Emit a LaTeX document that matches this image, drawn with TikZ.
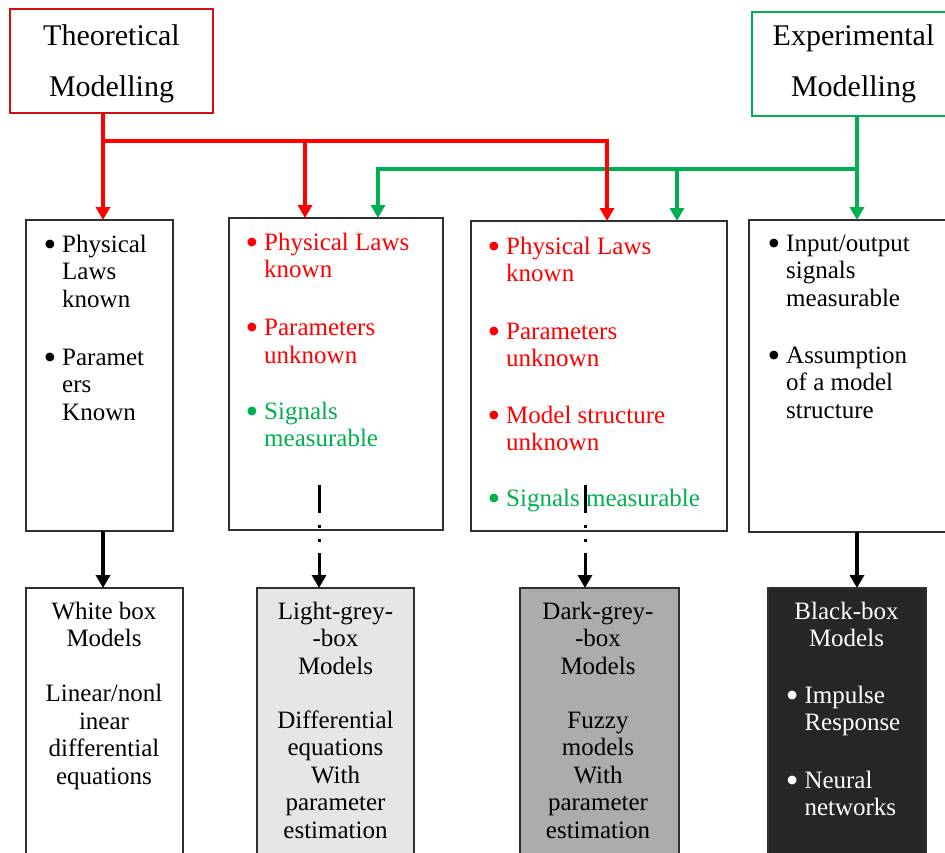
\documentclass[tikz,border=0pt]{standalone}
\usepackage{fontspec}
\setmainfont{Liberation Serif}[Ligatures=TeX]
\newfontfamily\tnr{Liberation Serif}
\usetikzlibrary{arrows.meta}

\definecolor{tred}{HTML}{FF0000}
\definecolor{tredline}{HTML}{D01010}
\definecolor{egreen}{HTML}{00B050}
\definecolor{lgrey}{HTML}{E7E6E6}
\definecolor{dgrey}{HTML}{AEABAB}
\definecolor{bbox}{HTML}{262626}
\definecolor{edge}{HTML}{303030}

\newcommand\bul{\llap{\raisebox{-4pt}{\scalebox{1.45}{\textbullet}}\hspace{6pt}}}

\begin{document}
\begin{tikzpicture}[x=1pt,y=-1pt,
  panel/.style={draw=edge, line width=1.3pt, inner sep=0pt, outer sep=0pt,
    anchor=north west, fill=white},
  title/.style={font=\tnr\fontsize{30}{51}\selectfont, inner sep=0pt,
    anchor=base, align=center},
  item/.style={font=\tnr\fontsize{25}{27.5}\selectfont, inner sep=0pt,
    anchor=base west, align=left},
  ctext/.style={font=\tnr\fontsize{25}{27.5}\selectfont, inner sep=0pt,
    anchor=base, align=center},
  tarrow/.style={draw=tred, line width=4pt,
    -{Triangle[width=14pt,length=13pt]}, tred},
  earrow/.style={draw=egreen, line width=3.6pt,
    -{Triangle[width=14pt,length=13pt]}, egreen},
  karrow/.style={draw=black, line width=3.6pt,
    -{Triangle[width=14pt,length=13pt]}},
  darrow/.style={draw=black, line width=3pt,
    dash pattern=on 28pt off 12pt on 3pt off 11pt on 3pt off 11pt on 80pt off 0pt,
    -{Triangle[width=14pt,length=13pt]}},
]
\useasboundingbox (0,0) rectangle (945,852);
\clip (0,0) rectangle (945,852);
\fill[white] (0,0) rectangle (945,852);

% modelling sources
\node[panel, draw=tredline, line width=1.2pt, minimum width=203pt, minimum height=104pt] (theo) at (10,9) {};
\node[panel, draw=egreen, line width=1.2pt, minimum width=205pt, minimum height=104pt] (expe) at (752,12) {};
% multi-line nodes sit on the baseline of their last line
\node[title] (theotxt) at (111.5,96) {Theoretical\\Modelling};
\node[title] (expetxt) at (853.5,96.5) {Experimental\\Modelling};

% knowledge panels
\node[panel, minimum width=147pt, minimum height=311pt] (m1) at (26,220) {};
\node[panel, minimum width=214pt, minimum height=312pt] (m2) at (229,218) {};
\node[panel, minimum width=256pt, minimum height=310pt] (m3) at (471,221) {};
\node[panel, minimum width=210pt, minimum height=312pt] (m4) at (749,220) {};

% model classes
\node[panel, minimum width=157pt, minimum height=290pt] (b1) at (26,588) {};
\node[panel, fill=lgrey, minimum width=157pt, minimum height=290pt] (b2) at (257,588) {};
\node[panel, fill=dgrey, minimum width=159pt, minimum height=290pt] (b3) at (520,588) {};
\node[panel, fill=bbox, minimum width=158pt, minimum height=290pt] (b4) at (768,588) {};

% junction points of the feed lines
\coordinate (rj) at (103,141);
\coordinate (r2) at (305,141);
\coordinate (r3) at (607,141);
\coordinate (gj) at (857,169);
\coordinate (g1) at (378,169);
\coordinate (g2) at (677,169);
\coordinate (d2) at (319,485);
\coordinate (d3) at (585,485);

% experimental feed
\draw[earrow] (expe.south -| gj) -- (m4.north -| gj);
\draw[earrow] (gj) -- (g1) -- (g1 |- m2.north);
\draw[earrow] (g2) -- (g2 |- m3.north);

% theoretical feed
\draw[tarrow] (theo.south -| rj) -- (m1.north -| rj);
\draw[tarrow] (rj) -- (r3) -- (r3 |- m3.north);
\draw[tarrow] (r2) -- (r2 |- m2.north);

% panel contents
\node[item] (m1a) at (62,307) {\bul Physical\\Laws\\known};
\node[item] (m1b) at (62,420) {\bul Paramet\\ers\\Known};

\node[item, text=tred] (m2a) at (264,277.5) {\bul Physical Laws\\known};
\node[item, text=tred] (m2b) at (264,363.2) {\bul Parameters\\unknown};
\node[item, text=egreen] (m2c) at (264,446.5) {\bul Signals\\measurable};

\node[item, text=tred] (m3a) at (506,281.8) {\bul Physical Laws\\known};
\node[item, text=tred] (m3b) at (506,366.5) {\bul Parameters\\unknown};
\node[item, text=tred] (m3c) at (506,450.8) {\bul Model structure\\unknown};
\node[item, text=egreen] (m3d) at (506,506.7) {\bul Signals measurable};

\node[item] (m4a) at (786,306) {\bul Input/output\\signals\\measurable};
\node[item] (m4b) at (786,418.3) {\bul Assumption\\of a model\\structure};

% downward links to the model classes
\draw[karrow] (m1.south -| rj) -- (b1.north -| rj);
\draw[darrow] (d2) -- (d2 |- b2.north);
\draw[darrow] (d3) -- (d3 |- b3.north);
\draw[karrow] (m4.south -| gj) -- (b4.north -| gj);

% model class contents
\node[ctext] (b1a) at (104,646.5) {White box\\Models};
\node[ctext] (b1b) at (104,784.2) {Linear/nonl\\inear\\differential\\equations};

\node[ctext] (b2a) at (335.5,674.3) {Light-grey-\\-box\\Models};
\node[ctext] (b2b) at (335.5,838.3) {Differential\\equations\\With\\parameter\\estimation};

\node[ctext] (b3a) at (598,674.3) {Dark-grey-\\-box\\Models};
\node[ctext] (b3b) at (598,838.3) {Fuzzy\\models\\With\\parameter\\estimation};

\node[ctext, text=white] (b4a) at (846.5,646.5) {Black-box\\Models};
\node[item, text=white] (b4b) at (804.3,730.8) {\bul Impulse\\Response};
\node[item, text=white] (b4c) at (804.3,815.8) {\bul Neural\\networks};
\end{tikzpicture}
\end{document}
